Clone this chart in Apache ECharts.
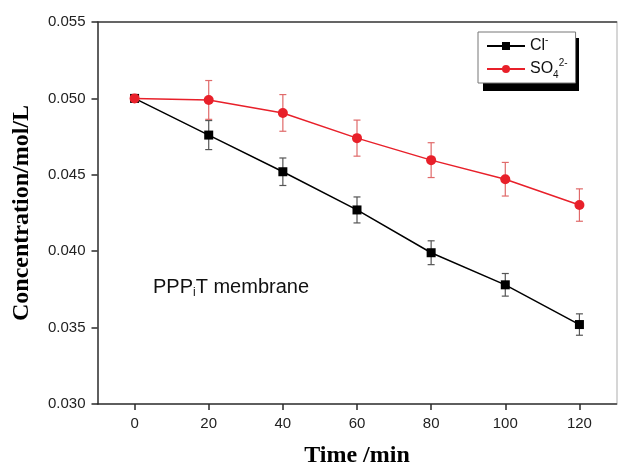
<!DOCTYPE html>
<html>
<head>
<meta charset="utf-8">
<script src="https://cdn.jsdelivr.net/npm/echarts@6/dist/echarts.min.js"></script>
<style>html,body{margin:0;padding:0;background:#fff}#c{width:618px;height:473px}</style>
</head>
<body>
<div id="c"></div>
<script>
var times = [0, 20, 40, 60, 80, 100, 120];
var clValues = [0.0500, 0.0476, 0.0452, 0.0427, 0.0399, 0.0378, 0.0352];
var clErrors = [0, 0.00095, 0.0009, 0.00085, 0.00078, 0.00074, 0.0007];
var so4Values = [0.0500, 0.0499, 0.04905, 0.0474, 0.04596, 0.04471, 0.04302];
var so4Errors = [0, 0.00127, 0.0012, 0.00118, 0.00114, 0.0011, 0.00106];
var xTicks = [0, 20, 40, 60, 80, 100, 120];

var chart = echarts.init(document.getElementById('c'), null, {renderer: 'canvas'});

function pairs(vals) { return times.map(function (t, i) { return [t, vals[i]]; }); }
function errData(vals, errs) { return times.map(function (t, i) { return [t, vals[i] - errs[i], vals[i] + errs[i]]; }); }

function errRender(color) {
  return function (params, api) {
    var x = api.value(0), lo = api.value(1), hi = api.value(2);
    if (hi - lo <= 0) return null;
    var p1 = api.coord([x, lo]), p2 = api.coord([x, hi]);
    var w = 3.5;
    var st = {stroke: color, lineWidth: 1.2};
    return {
      type: 'group',
      children: [
        {type: 'line', shape: {x1: p1[0], y1: p1[1], x2: p2[0], y2: p2[1]}, style: st},
        {type: 'line', shape: {x1: p1[0] - w, y1: p1[1], x2: p1[0] + w, y2: p1[1]}, style: st},
        {type: 'line', shape: {x1: p2[0] - w, y1: p2[1], x2: p2[0] + w, y2: p2[1]}, style: st}
      ]
    };
  };
}

var axisCol = '#2a2a2a';
var labelStyle = {color: '#222', fontFamily: 'Liberation Sans, Arial', fontSize: 15};
var titleStyle = {color: '#000', fontFamily: 'Liberation Serif, Times New Roman', fontWeight: 'bold', fontSize: 24};

chart.setOption({
  animation: false,
  backgroundColor: '#fff',
  grid: {left: 97.5, right: 1.5, top: 22, bottom: 63.5},
  xAxis: [{
    type: 'value', min: -10, max: 130, position: 'bottom',
    name: 'Time /min', nameLocation: 'middle', nameGap: 40, nameTextStyle: titleStyle,
    axisLine: {show: true, onZero: false, lineStyle: {color: axisCol, width: 1.5}},
    axisTick: {show: true, length: 6, inside: false, customValues: xTicks, lineStyle: {color: axisCol, width: 1.5}},
    axisLabel: Object.assign({margin: 12, customValues: xTicks}, labelStyle),
    splitLine: {show: false}
  }, {
    type: 'value', min: -10, max: 130, position: 'top',
    axisLine: {show: true, onZero: false, lineStyle: {color: '#333', width: 1.5}},
    axisTick: {show: false}, axisLabel: {show: false}, splitLine: {show: false}
  }],
  yAxis: [{
    type: 'value', min: 0.03, max: 0.055, interval: 0.005, position: 'left',
    name: 'Concentration/mol/L', nameLocation: 'middle', nameGap: 64, nameTextStyle: titleStyle,
    axisLine: {show: true, onZero: false, lineStyle: {color: axisCol, width: 1.5}},
    axisTick: {show: true, length: 6, lineStyle: {color: axisCol, width: 1.5}},
    axisLabel: Object.assign({margin: 12, formatter: function (v) { return v.toFixed(3); }}, labelStyle),
    splitLine: {show: false}
  }, {
    type: 'value', min: 0.03, max: 0.055, interval: 0.005, position: 'right',
    axisLine: {show: true, onZero: false, lineStyle: {color: '#c8c8c8', width: 1.5}},
    axisTick: {show: false}, axisLabel: {show: false}, splitLine: {show: false}
  }],
  legend: {
    left: 478, top: 32, orient: 'vertical', z: 10,
    itemWidth: 38, itemHeight: 10, itemGap: 4,
    padding: [3, 8, 3, 8],
    backgroundColor: '#fff', borderColor: '#777', borderWidth: 1,
    data: ['Cl', 'SO4'],
    formatter: function (n) {
      if (n === 'Cl') return '{m|Cl}{sup|-}';
      return '{m|SO}{sub|4}{sup|2-}';
    },
    textStyle: {
      color: '#111', fontFamily: 'Liberation Sans, Arial', fontSize: 16,
      rich: {
        m: {fontSize: 16, fontFamily: 'Liberation Sans, Arial', color: '#111', lineHeight: 22},
        sup: {fontSize: 10, fontFamily: 'Liberation Sans, Arial', color: '#111', verticalAlign: 'top', lineHeight: 12},
        sub: {fontSize: 10, fontFamily: 'Liberation Sans, Arial', color: '#111', verticalAlign: 'bottom', lineHeight: 12}
      }
    }
  },
  graphic: [{
    type: 'rect', left: 483, top: 38, z: 0, silent: true,
    shape: {width: 96, height: 53},
    style: {fill: '#000'}
  }, {
    type: 'text', left: 153, top: 277,
    style: {
      text: '{m|PPP}{s|i}{m|T membrane}',
      rich: {
        m: {fontSize: 20, fontFamily: 'Liberation Sans, Arial', fill: '#111', lineHeight: 24},
        s: {fontSize: 12, fontFamily: 'Liberation Sans, Arial', fill: '#111', verticalAlign: 'bottom', lineHeight: 12}
      }
    }
  }],
  series: [{
    type: 'custom', name: 'clErr', renderItem: errRender('#555'),
    data: errData(clValues, clErrors), encode: {x: 0, y: [1, 2]}, z: 1, silent: true
  }, {
    type: 'custom', name: 'so4Err', renderItem: errRender('#e06a6a'),
    data: errData(so4Values, so4Errors), encode: {x: 0, y: [1, 2]}, z: 1, silent: true
  }, {
    type: 'line', name: 'Cl', data: pairs(clValues),
    symbol: 'rect', symbolSize: 9, color: '#000',
    lineStyle: {color: '#000', width: 1.5}, itemStyle: {color: '#000'}, z: 3
  }, {
    type: 'line', name: 'SO4', data: pairs(so4Values),
    symbol: 'circle', symbolSize: 10, color: '#e8202a',
    lineStyle: {color: '#e8202a', width: 1.5}, itemStyle: {color: '#e8202a'}, z: 4
  }]
});
</script>
</body>
</html>
